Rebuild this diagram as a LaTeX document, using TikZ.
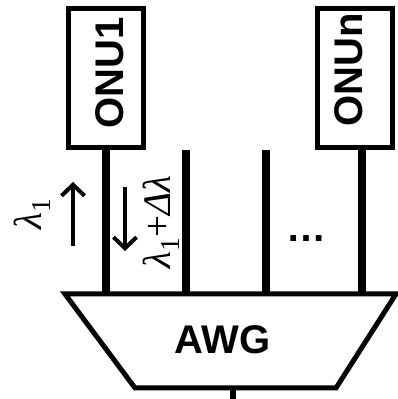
\documentclass[tikz,border=0pt]{standalone}
\usepackage{fontspec}
\setmainfont{Liberation Sans}
\newfontfamily\grfont{Liberation Serif}
\usetikzlibrary{arrows.meta}
\begin{document}
\begin{tikzpicture}[x=1pt,y=1pt,
  onubox/.style={draw,line width=5pt,minimum width=75pt,minimum height=139pt,inner sep=0pt},
  onutext/.style={font=\fontsize{40}{40}\selectfont\bfseries,rotate=90,inner sep=0pt},
  fiber/.style={line width=7.5pt},
  wlarrow/.style={line width=4pt,-{Straight Barb[length=11pt,width=23pt,line width=4pt]}},
  wltext/.style={font=\grfont\fontsize{39}{39}\selectfont,rotate=90,inner sep=0pt}]
\useasboundingbox (0,0) rectangle (398,399);
% ONU boxes
\node[onubox] (onu1) at (106,321) {};
\node[onubox] (onun) at (354.5,321) {};
\node[onutext] (t1) at (110,326) {ONU1};
\node[onutext] (tn) at (349,329) {ONUn};
% AWG
\coordinate (tl) at (65,105);
\coordinate (tr) at (396,105);
\coordinate (br) at (336,11);
\coordinate (bl) at (135,11);
\draw[line width=5pt,line join=miter] (tl) -- (tr) -- (br) -- (bl) -- cycle;
\node[font=\fontsize{40}{40}\selectfont\bfseries,inner sep=0pt] (awg) at (222.5,59) {AWG};
% fibers
\coordinate (f1) at (106,105);
\coordinate (f2t) at (186,249);
\coordinate (f2) at (186,105);
\coordinate (f3t) at (266,249);
\coordinate (f3) at (266,105);
\coordinate (fn) at (362,105);
\coordinate (fnt) at (362,249);
\draw[fiber] (onu1.south) -- (f1);
\draw[fiber] (f2t) -- (f2);
\draw[fiber] (f3t) -- (f3);
\draw[fiber] (fnt) -- (fn);
\coordinate (stem) at (233,11);
\coordinate (stemend) at (233,0);
\draw[line width=6pt] (stem) -- (stemend);
% arrows
\coordinate (ua) at (73,153);
\coordinate (ub) at (73,217);
\draw[wlarrow] (ua) -- (ub);
\coordinate (da) at (125,212);
\coordinate (db) at (125,148);
\draw[wlarrow] (da) -- (db);
% labels
\node[wltext] (l1) at (32,185) {\textit{λ}\textsubscript{1}};
\node[wltext] (l2) at (161,177) {\textit{λ}\textsubscript{1}+\textit{Δλ}};
\node[font=\fontsize{40}{40}\selectfont\bfseries,inner sep=0pt] (dots) at (306,160) {…};
\end{tikzpicture}
\end{document}
